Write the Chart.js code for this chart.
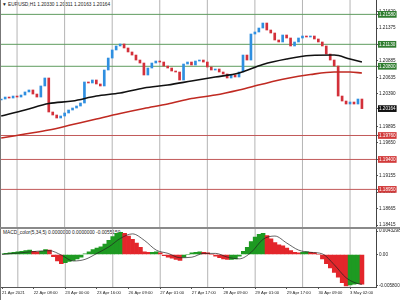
<!DOCTYPE html>
<html lang="en">
<head>
<meta charset="UTF-8">
<title>EURUSD H1</title>
<script src="https://cdn.jsdelivr.net/npm/chart.js"></script>
<style>
  body { margin: 0; background: #fff; }
  #wrap { position: relative; width: 400px; height: 300px; overflow: hidden; font-family: "Liberation Sans", Arial, sans-serif; }
  .txt { position: absolute; font-size: 4.8px; line-height: 6px; color: #222; white-space: nowrap; z-index: 0; }
  .pane { position: absolute; left: 0; width: 399px; border-left: 1px solid #777; z-index: 1; }
  #sep { position: absolute; left: 0; top: 227px; width: 400px; height: 2px; background: #8a8a8a; z-index: 2; }
</style>
</head>
<body>
<div id="wrap">
  <div class="txt" style="left:2px;top:2px">&#9660; EURUSD,H1 1.20330 1.20311 1.20163 1.20164</div>
  <div class="txt" style="left:3px;top:230px">MACD_color(5,34,5) 0.0000000 0.0000000 -0.0055150</div>
  <div class="pane" style="top:0;height:227px"><canvas id="priceChart"></canvas></div>
  <div id="sep"></div>
  <div class="pane" style="top:229px;height:71px"><canvas id="macdChart"></canvas></div>
</div>
<script>
// hours counted from 21 Apr 00:00 (weekend removed), one bar per 2 hours
const X_MIN = 15.9, X_MAX = 205.1;
const PRICE_MIN = 1.18385, PRICE_MAX = 1.21796;
const MACD_MIN = -0.006, MACD_MAX = 0.0047;

const firstOpen = 1.20293;
const closes = [
  1.20308, 1.20338, 1.20323, 1.20353, 1.20338, 1.20368, 1.20414, 1.20444, 1.20383, 1.20338,
  1.20504, 1.20624, 1.20113, 1.20068, 1.20023, 1.20053, 1.20098, 1.20143, 1.20173, 1.20203,
  1.20248, 1.20564, 1.20549, 1.20594, 1.20534, 1.20504, 1.20744, 1.20924, 1.21045, 1.21105,
  1.21135, 1.21075, 1.21015, 1.20969, 1.20894, 1.20849, 1.20669, 1.20774, 1.20849, 1.20879,
  1.20864, 1.20804, 1.20774, 1.20729, 1.20714, 1.20594, 1.20834, 1.20864, 1.20819, 1.20879,
  1.20894, 1.20864, 1.20789, 1.20744, 1.20759, 1.20714, 1.20684, 1.20624, 1.20669, 1.20639,
  1.20714, 1.20969, 1.20894, 1.21285, 1.21315, 1.21375, 1.21450, 1.21345, 1.21300, 1.21195,
  1.21165, 1.21270, 1.21225, 1.21105, 1.21165, 1.21225, 1.21255, 1.21240, 1.21255, 1.21210,
  1.21165, 1.21105, 1.20984, 1.20894, 1.20804, 1.20353, 1.20278, 1.20233, 1.20263, 1.20233,
  1.20308, 1.20164
];

const macdHist = [
  0.0001, 0.0002, 0.0003, 0.0004, 0.0005, 0.0006, 0.0007, 0.0008, 0.0006, 0.0005,
  0.0006, 0.0009, 0.0008, -0.0004, -0.0012, -0.0017, -0.0015, -0.0013, -0.0011, -0.0008,
  -0.0005, 0.0001, 0.0005, 0.0009, 0.0012, 0.0014, 0.0019, 0.0026, 0.0033, 0.0039,
  0.0041, 0.0039, 0.0034, 0.0028, 0.0021, 0.0013, 0.0005, 0.0004, 0.0004, 0.0005,
  0.0003, -0.0002, -0.0005, -0.0007, -0.0009, -0.0011, -0.0005, 0.0000, 0.0003, 0.0004,
  0.0005, 0.0004, 0.0003, 0.0000, -0.0003, -0.0006, -0.0008, -0.0009, -0.0009, -0.0008,
  -0.0003, 0.0006, 0.0013, 0.0024, 0.0032, 0.0037, 0.0039, 0.0035, 0.0029, 0.0022,
  0.0018, 0.0016, 0.0012, 0.0007, 0.0004, 0.0003, 0.0004, 0.0005, 0.0004, 0.0003,
  0.0000, -0.0008, -0.0017, -0.0025, -0.0033, -0.0042, -0.0052, -0.0058, -0.0056, -0.0055,
  -0.0054, -0.0055
];

const signalHours = [16, 22, 28, 34, 40, 46, 52, 58, 64, 70, 76, 82, 88, 94, 100, 106,
  112, 118, 124, 130, 136, 142, 148, 154, 160, 166, 172, 178, 184, 190, 196, 198];
const signalValues = [0.0000, 0.0002, 0.0004, 0.0006, 0.0007, -0.0001, -0.0012, -0.0009,
  0.0002, 0.0014, 0.0030, 0.0038, 0.0026, 0.0008, 0.0002, -0.0006, -0.0005, 0.0002,
  0.0002, -0.0005, -0.0008, 0.0004, 0.0028, 0.0034, 0.0021, 0.0008, 0.0004, 0.0001,
  -0.0019, -0.0043, -0.0054, -0.0055];

const maHours = [16, 28, 40, 52, 64, 76, 88, 100, 112, 124, 136, 148, 160, 172, 184, 192, 198];
const maBlack = [1.20053, 1.20143, 1.20241, 1.20278, 1.20353, 1.20398, 1.20474, 1.20519,
  1.20579, 1.20639, 1.20699, 1.20827, 1.20909, 1.20962, 1.20969, 1.20909, 1.20864];
const maRed = [1.19722, 1.19782, 1.19842, 1.19925, 1.20008, 1.20090, 1.20165, 1.20233,
  1.20316, 1.20368, 1.20444, 1.20534, 1.20616, 1.20676, 1.20714, 1.20714, 1.20699];

const greenLevels = [1.21580, 1.21130, 1.20800];
const redLevels = [1.19760, 1.19400, 1.18950];
const lastPrice = 1.20164;
const priceTicks = [1.21620, 1.21375, 1.20885, 1.20635, 1.20390, 1.19895, 1.19650,
  1.19155, 1.18910, 1.18665, 1.18415];

const macdTickValues = [0.0043298, 0, -0.0058];
const macdTickLabels = ['0.0043298', '0.00', '-0.005800'];

const midnightHours = [24, 48, 72, 96, 120, 144, 168, 192];
const labelHours = [16, 32, 48, 64, 80, 96, 112, 128, 144, 160, 176, 192];
const labelTexts = ['21 Apr 2021', '22 Apr 08:00', '23 Apr 00:00', '23 Apr 16:00', '26 Apr 09:00',
  '27 Apr 01:00', '27 Apr 17:00', '28 Apr 09:00', '29 Apr 01:00', '29 Apr 17:00',
  '30 Apr 09:00', '3 May 02:00'];

const barHours = closes.map((_, i) => 16 + 2 * i);
const opens = [firstOpen, ...closes.slice(0, -1)];

const UP = '#2f8fe0', DOWN = '#d3303a';
const GREEN_BOX = '#2f7d2f', RED_BOX = '#d23a3a';
const GRID = '#b4b4b4';

const boxColor = {};
greenLevels.forEach(v => boxColor[v.toFixed(5)] = GREEN_BOX);
redLevels.forEach(v => boxColor[v.toFixed(5)] = RED_BOX);
boxColor[lastPrice.toFixed(5)] = '#111';

function levelLine(v, color) {
    return {
        type: 'line', data: [{x: X_MIN, y: v}, {x: X_MAX, y: v}],
        borderColor: color, borderWidth: 1, pointRadius: 0, order: 2
    };
}

// day separators, one per midnight
function dayLines(lo, hi) {
    return midnightHours.map(h => ({
        type: 'line', data: [{x: h, y: lo}, {x: h, y: hi}],
        borderColor: GRID, borderWidth: 1, pointRadius: 0, order: 3
    }));
}

const axisFont = {family: 'Liberation Sans', size: 4.6};

new Chart(document.getElementById('priceChart'), {
    type: 'bar',
    data: {
        datasets: [
            {
                type: 'line', label: 'MA slow',
                data: maHours.map((h, i) => ({x: h, y: maBlack[i]})),
                borderColor: '#111', borderWidth: 1.6, pointRadius: 0,
                cubicInterpolationMode: 'monotone', order: 0
            },
            {
                type: 'line', label: 'MA 200',
                data: maHours.map((h, i) => ({x: h, y: maRed[i]})),
                borderColor: '#c02a22', borderWidth: 1.6, pointRadius: 0,
                cubicInterpolationMode: 'monotone', order: 0
            },
            {
                type: 'bar', label: 'EURUSD',
                data: closes.map((c, i) => ({x: barHours[i], y: [opens[i], c]})),
                backgroundColor: closes.map((c, i) => c >= opens[i] ? UP : DOWN),
                barThickness: 2, minBarLength: 1, order: 1
            },
            ...greenLevels.map(v => levelLine(v, '#5f9c5f')),
            ...redLevels.map(v => levelLine(v, '#c25a5a')),
            ...dayLines(PRICE_MIN, PRICE_MAX)
        ]
    },
    options: {
        responsive: true, maintainAspectRatio: false, animation: false,
        layout: {padding: 0, autoPadding: false},
        plugins: {legend: {display: false}, tooltip: {enabled: false}},
        scales: {
            x: {
                type: 'linear', min: X_MIN, max: X_MAX, offset: false,
                afterFit: s => { s.height = 0; },
                ticks: {display: false},
                grid: {display: false},
                border: {display: false}
            },
            y: {
                position: 'right', min: PRICE_MIN, max: PRICE_MAX,
                afterBuildTicks: s => {
                    s.ticks = [...priceTicks, lastPrice, ...greenLevels, ...redLevels].map(v => ({value: v}));
                },
                afterFit: s => { s.width = 24; s.paddingTop = 0; s.paddingBottom = 0; },
                ticks: {
                    autoSkip: false, padding: 1, font: axisFont,
                    callback: v => v.toFixed(5),
                    color: c => boxColor[c.tick.value.toFixed(5)] ? '#fff' : '#222',
                    showLabelBackdrop: c => !!boxColor[c.tick.value.toFixed(5)],
                    backdropColor: c => boxColor[c.tick.value.toFixed(5)] || 'rgba(0,0,0,0)',
                    backdropPadding: {x: 1, y: 0.6}
                },
                grid: {drawOnChartArea: false, tickLength: 2, color: '#555'},
                border: {display: true, color: '#444'}
            }
        }
    }
});

new Chart(document.getElementById('macdChart'), {
    type: 'bar',
    data: {
        datasets: [
            {
                type: 'line', label: 'Signal',
                data: signalHours.map((h, i) => ({x: h, y: signalValues[i]})),
                borderColor: '#222', borderWidth: 0.7, pointRadius: 0,
                cubicInterpolationMode: 'monotone', order: 0
            },
            {
                type: 'bar', label: 'MACD',
                data: macdHist.map((v, i) => ({x: barHours[i], y: v})),
                backgroundColor: macdHist.map((v, i) => (i > 0 && v < macdHist[i - 1]) ? '#e3262b' : '#1e9a22'),
                barPercentage: 1, categoryPercentage: 1, order: 1
            },
            ...dayLines(MACD_MIN, MACD_MAX)
        ]
    },
    options: {
        responsive: true, maintainAspectRatio: false, animation: false,
        layout: {padding: 0, autoPadding: false},
        plugins: {legend: {display: false}, tooltip: {enabled: false}},
        scales: {
            x: {
                type: 'linear', min: X_MIN, max: X_MAX, offset: false,
                afterBuildTicks: s => { s.ticks = labelHours.map(v => ({value: v})); },
                afterFit: s => { s.height = 13; },
                ticks: {
                    autoSkip: false, maxRotation: 0, align: 'start', padding: 1,
                    font: {family: 'Liberation Sans', size: 4.2}, color: '#222',
                    callback: v => labelTexts[labelHours.indexOf(v)]
                },
                grid: {drawOnChartArea: false, offset: false, tickLength: 2, color: '#555'},
                border: {display: true, color: '#555'}
            },
            y: {
                position: 'right', min: MACD_MIN, max: MACD_MAX,
                afterBuildTicks: s => { s.ticks = macdTickValues.map(v => ({value: v})); },
                afterFit: s => { s.width = 24; s.paddingTop = 0; s.paddingBottom = 0; },
                ticks: {
                    autoSkip: false, padding: 1, font: axisFont, color: '#222',
                    callback: v => macdTickLabels[macdTickValues.indexOf(v)]
                },
                grid: {drawOnChartArea: false, tickLength: 2, color: '#555'},
                border: {display: true, color: '#444'}
            }
        }
    }
});
</script>
</body>
</html>
